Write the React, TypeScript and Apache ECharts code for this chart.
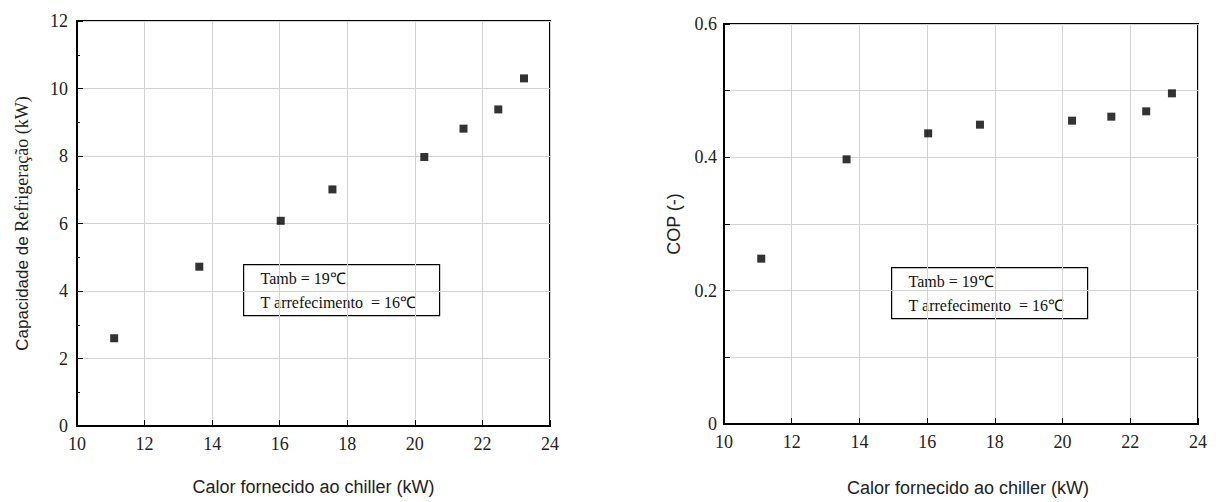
import React, { useEffect, useRef } from "react";
import * as echarts from "echarts";

const heatSupplied = [11.1, 13.62, 16.03, 17.56, 20.28, 21.44, 22.47, 23.23];
const coolingCapacity = [2.6, 4.72, 6.08, 7.01, 7.97, 8.81, 9.38, 10.3];
const copValues = [0.248, 0.397, 0.436, 0.449, 0.455, 0.461, 0.469, 0.496];
const noteLines = ["Tamb = 19℃", "T arrefecimento  = 16℃"];

const xTitle = "Calor fornecido ao chiller (kW)";

export default function App() {
  const ref = useRef<HTMLDivElement>(null);
  useEffect(() => {
    document.body.style.margin = "0";
    const chart = echarts.init(ref.current!, null, { renderer: "svg" });
    const tickFont = { fontFamily: "Liberation Sans Narrow", fontSize: 18, color: "#222" };
    const sansTitle = { fontFamily: "Liberation Sans", fontSize: 18, color: "#222" };
    const axisLine = { show: true, lineStyle: { color: "#000", width: 2 } };
    const split = { show: true, lineStyle: { color: "#d2d2d2", width: 1 } };
    const tick = { show: true, inside: true, length: 6, lineStyle: { color: "#000", width: 1 } };

    const noteBox = (left: number, top: number) => ({
      type: "group",
      left,
      top,
      children: [
        { type: "rect", shape: { x: 0, y: 0, width: 196, height: 51 }, style: { fill: "#fff", stroke: "#000", lineWidth: 1.2 } },
        { type: "text", x: 17, y: 14, style: { text: noteLines[0], font: "16px 'Liberation Serif'", fill: "#111", verticalAlign: "middle" } },
        { type: "text", x: 17, y: 38, style: { text: noteLines[1], font: "16px 'Liberation Serif'", fill: "#111", verticalAlign: "middle" } },
      ],
    });

    chart.setOption({
      animation: false,
      backgroundColor: "#fff",
      grid: [
        { left: 77, top: 21, width: 473, height: 405, show: true, borderColor: "#000", borderWidth: 2, backgroundColor: "transparent" },
        { left: 724, top: 24, width: 474, height: 404, show: true, borderColor: "#000", borderWidth: 2, backgroundColor: "transparent" },
      ],
      xAxis: [
        {
          gridIndex: 0, type: "value", min: 10, max: 24, interval: 2,
          axisLine, splitLine: split, axisTick: tick,
          axisLabel: { ...tickFont, margin: 9 },
          name: xTitle, nameLocation: "middle", nameGap: 52, nameTextStyle: sansTitle,
        },
        {
          gridIndex: 1, type: "value", min: 10, max: 24, interval: 2,
          axisLine, splitLine: split, axisTick: tick,
          axisLabel: { ...tickFont, margin: 9 },
          name: xTitle, nameLocation: "middle", nameGap: 55, nameTextStyle: { ...sansTitle, padding: [0, 0, 0, 14] },
        },
      ],
      yAxis: [
        {
          gridIndex: 0, type: "value", min: 0, max: 12, interval: 2,
          axisLine, splitLine: split, axisTick: tick,
          minorTick: { show: true, splitNumber: 2, length: 3, lineStyle: { color: "#000" } },
          axisLabel: { ...tickFont, margin: 9 },
          name: "{a|Capacidade de }{b|Refrigeração (kW)}",
          nameLocation: "middle", nameRotate: 90, nameGap: 46,
          nameTextStyle: {
            rich: {
              a: { fontFamily: "Liberation Sans", fontSize: 17, color: "#222" },
              b: { fontFamily: "Liberation Serif", fontSize: 18, color: "#222" },
            },
          },
        },
        {
          gridIndex: 1, type: "value", min: 0, max: 0.6, interval: 0.1,
          axisLine, splitLine: split, axisTick: tick,
          axisLabel: {
            ...tickFont, margin: 7,
            formatter: (v: number) => {
              const k = Math.round(v * 10);
              if (k % 2 !== 0) return "";
              return k === 0 ? "0" : (k / 10).toFixed(1);
            },
          },
          name: "COP (-)", nameLocation: "middle", nameRotate: 90, nameGap: 41,
          nameTextStyle: sansTitle,
        },
      ],
      series: [
        {
          type: "scatter", xAxisIndex: 0, yAxisIndex: 0, symbol: "rect", symbolSize: 8,
          itemStyle: { color: "#000" },
          data: heatSupplied.map((x, i) => [x, coolingCapacity[i]]),
        },
        {
          type: "scatter", xAxisIndex: 1, yAxisIndex: 1, symbol: "rect", symbolSize: 8,
          itemStyle: { color: "#000" },
          data: heatSupplied.map((x, i) => [x, copValues[i]]),
        },
      ],
      graphic: [noteBox(243, 264), noteBox(891, 267)],
    });
    return () => chart.dispose();
  }, []);
  return <div ref={ref} style={{ width: 1216, height: 502 }} />;
}
